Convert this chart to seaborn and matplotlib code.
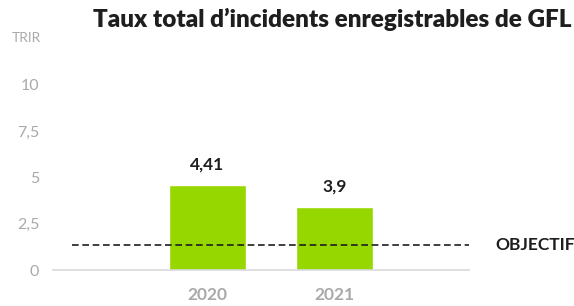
"""
Recreates the GFL total recordable incident rate (TRIR) bar chart
"""
import matplotlib
matplotlib.use('Agg')
import matplotlib.pyplot as plt
import pandas as pd
import seaborn as sns

years = ['2020', '2021']
trir_bars = [4.6, 3.4]          # bar heights as drawn in the picture
trir_labels = ['4,41', '3,9']   # value labels printed above the bars
objectif = 1.34
y_ticks = [0, 2.5, 5, 7.5, 10]
y_tick_labels = ['0', '2,5', '5', '7,5', '10']

GREEN = '#97d700'
GREY = '#a9a9a9'
DARK = '#1e1e1e'

sns.set_theme(style='white')
plt.rcParams['font.family'] = ['Lato', 'DejaVu Sans']

df = pd.DataFrame({'year': years, 'trir': trir_bars})

fig = plt.figure(figsize=(5.74, 3.06), dpi=100)
ax = fig.add_axes([53 / 574, 36 / 306, 416 / 574, 0.6653])

sns.barplot(data=df, x='year', y='trir', order=years, color=GREEN,
            saturation=1, width=0.606, ax=ax)

ax.set_xlim(-1.217, 2.06)
ax.set_ylim(0, 11)

# objective line
ax.axhline(objectif, xmin=0.046, xmax=1, color=DARK, lw=1.2,
           linestyle=(0, (4, 2.2)), zorder=3)
ax.text(1.0625, objectif, 'OBJECTIF', transform=ax.get_yaxis_transform(),
        ha='left', va='center', fontsize=12.5, fontweight='bold', color=DARK)

# value labels
for bar, label in zip(ax.patches, trir_labels):
    ax.annotate(label, (bar.get_x() + bar.get_width() / 2, bar.get_height()),
                xytext=(0, 9), textcoords='offset points', ha='center',
                va='bottom', fontsize=12.5, fontweight='bold', color=DARK)

ax.set_yticks(y_ticks)
ax.set_yticklabels(y_tick_labels)
ax.tick_params(axis='y', length=0, pad=10, labelsize=11.5, labelcolor=GREY)
ax.tick_params(axis='x', length=0, pad=12, labelsize=12.5, labelcolor=GREY)
for lbl in ax.get_xticklabels():
    lbl.set_fontweight('bold')

ax.set_xlabel('')
ax.set_ylabel('')
for side in ['top', 'right', 'left']:
    ax.spines[side].set_visible(False)
ax.spines['bottom'].set_color('#d9d9d9')
ax.spines['bottom'].set_linewidth(1.2)

fig.text(12 / 574, 1 - 38 / 306, 'TRIR', fontsize=10, color=GREY,
         ha='left', va='center')
fig.text(332 / 574, 1 - 19 / 306, 'Taux total d’incidents enregistrables de GFL',
         fontsize=17.5, fontweight='heavy', color=DARK, ha='center', va='center')

fig.savefig('out.png', dpi=100, facecolor='white')
